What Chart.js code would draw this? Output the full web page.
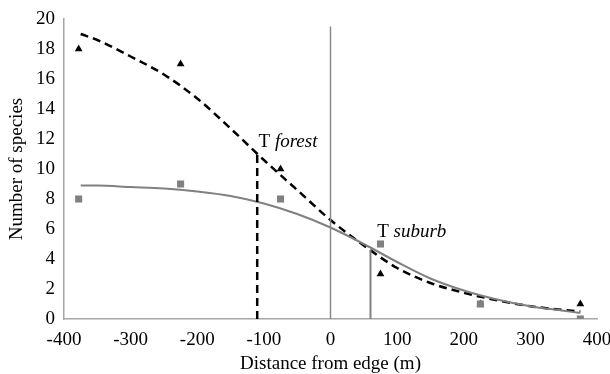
<!DOCTYPE html>
<html>
<head>
<meta charset="utf-8">
<script src="https://cdn.jsdelivr.net/npm/chart.js@4.4.1/dist/chart.umd.min.js"></script>
<style>
html,body{margin:0;padding:0;background:#fff;}
#wrap{width:610px;height:374px;position:relative;}
</style>
</head>
<body>
<div id="wrap"><canvas id="c" width="610" height="374"></canvas></div>
<script>
// Observed data
const sampleX = [-378, -225, -75, 75, 225, 375];
const forestObs = [18, 17, 10, 3, 1, 1];
const suburbObs = [8, 9, 8, 5, 1, 0];

// Fitted curves
const curveX = [-375, -350, -300, -250, -200, -150, -100, -50, 0, 50, 100, 150, 200, 250, 300, 350, 375];
const forestCurveY = [19.0, 18.6, 17.5, 16.3, 14.7, 12.7, 10.6, 8.6, 6.6, 4.9, 3.4, 2.4, 1.75, 1.25, 0.85, 0.6, 0.5];
const suburbCurveY = [8.9, 8.9, 8.8, 8.7, 8.5, 8.2, 7.7, 7.0, 6.1, 5.0, 3.8, 2.7, 1.9, 1.3, 0.85, 0.55, 0.4];

// Reference lines
const edgeX = 0, edgeTop = 19.5;
const tForestX = -110, tForestY = 11.1;
const tSuburbX = 60, tSuburbY = 4.6;

// Annotation labels
const labelPrefix = ['T ', 'T '];
const labelItalic = ['forest', 'suburb'];
const labelX = [-108, 70];
const labelY = [11.5, 5.5];

// Axis
const xMin = -400, xMax = 400, xStep = 100;
const yMin = 0, yMax = 20, yStep = 2;
const xTitle = 'Distance from edge (m)';
const yTitle = 'Number of species';

const FONT = '"Liberation Serif", "Times New Roman", serif';
const pts = (xs, ys) => xs.map((x, i) => ({x: x, y: ys[i]}));

const labelPlugin = {
  id: 'tlabels',
  afterDatasetsDraw(chart) {
    const ctx = chart.ctx;
    const xs = chart.scales.x, ys = chart.scales.y;
    ctx.save();
    ctx.fillStyle = '#000';
    ctx.textBaseline = 'alphabetic';
    ctx.textAlign = 'left';
    for (let i = 0; i < labelPrefix.length; i++) {
      const px = xs.getPixelForValue(labelX[i]);
      const py = ys.getPixelForValue(labelY[i]);
      ctx.font = '19px ' + FONT;
      ctx.fillText(labelPrefix[i], px, py);
      const w = ctx.measureText(labelPrefix[i]).width;
      ctx.font = 'italic 19px ' + FONT;
      ctx.fillText(labelItalic[i], px + w, py);
    }
    ctx.restore();
  }
};

new Chart(document.getElementById('c'), {
  type: 'scatter',
  data: {
    datasets: [
      {
        type: 'line', label: 'edge',
        data: [{x: edgeX, y: yMin}, {x: edgeX, y: edgeTop}],
        borderColor: '#8a8a8a', borderWidth: 1.5, pointRadius: 0, fill: false
      },
      {
        type: 'line', label: 'T forest',
        data: [{x: tForestX, y: yMin}, {x: tForestX, y: tForestY}],
        borderColor: '#000', borderWidth: 2.5, borderDash: [8, 5], pointRadius: 0, fill: false
      },
      {
        type: 'line', label: 'T suburb',
        data: [{x: tSuburbX, y: yMin}, {x: tSuburbX, y: tSuburbY}],
        borderColor: '#808080', borderWidth: 2, pointRadius: 0, fill: false
      },
      {
        type: 'line', label: 'suburb fit',
        data: pts(curveX, suburbCurveY),
        borderColor: '#808080', borderWidth: 2, pointRadius: 0, fill: false,
        cubicInterpolationMode: 'monotone'
      },
      {
        type: 'line', label: 'forest fit',
        data: pts(curveX, forestCurveY),
        borderColor: '#000', borderWidth: 2.5, borderDash: [8, 5], pointRadius: 0, fill: false,
        cubicInterpolationMode: 'monotone'
      },
      {
        label: 'suburb',
        data: pts(sampleX, suburbObs),
        pointStyle: 'rect', pointRadius: 5, backgroundColor: '#808080', borderColor: '#808080', borderWidth: 0
      },
      {
        label: 'forest',
        data: pts(sampleX, forestObs),
        pointStyle: 'triangle', pointRadius: 4.5, backgroundColor: '#000', borderColor: '#000', borderWidth: 0
      }
    ]
  },
  options: {
    responsive: false,
    animation: false,
    layout: {padding: {left: 0, right: 13, top: 19, bottom: 0}},
    plugins: {legend: {display: false}, tooltip: {enabled: false}},
    scales: {
      x: {
        type: 'linear', min: xMin, max: xMax,
        grid: {display: false, drawTicks: false},
        border: {display: true, color: '#a6a6a6', width: 1.5},
        ticks: {stepSize: xStep, color: '#000', font: {family: FONT, size: 19}, padding: 10, maxRotation: 0},
        title: {display: true, text: xTitle, color: '#000', font: {family: FONT, size: 19, lineHeight: 1.05}, padding: {top: 0, bottom: 0}},
        afterFit(s) { s.height = 55; s.paddingLeft = 0; s.paddingRight = 0; }
      },
      y: {
        type: 'linear', min: yMin, max: yMax,
        grid: {display: false, drawTicks: false},
        border: {display: true, color: '#a6a6a6', width: 1.5},
        ticks: {stepSize: yStep, color: '#000', font: {family: FONT, size: 19}, padding: 9},
        title: {display: true, text: yTitle, color: '#000', font: {family: FONT, size: 19}, padding: {top: 6, bottom: 4}},
        afterFit(s) { s.width = 64; s.paddingTop = 0; s.paddingBottom = 0; }
      }
    }
  },
  plugins: [labelPlugin]
});
</script>
</body>
</html>
